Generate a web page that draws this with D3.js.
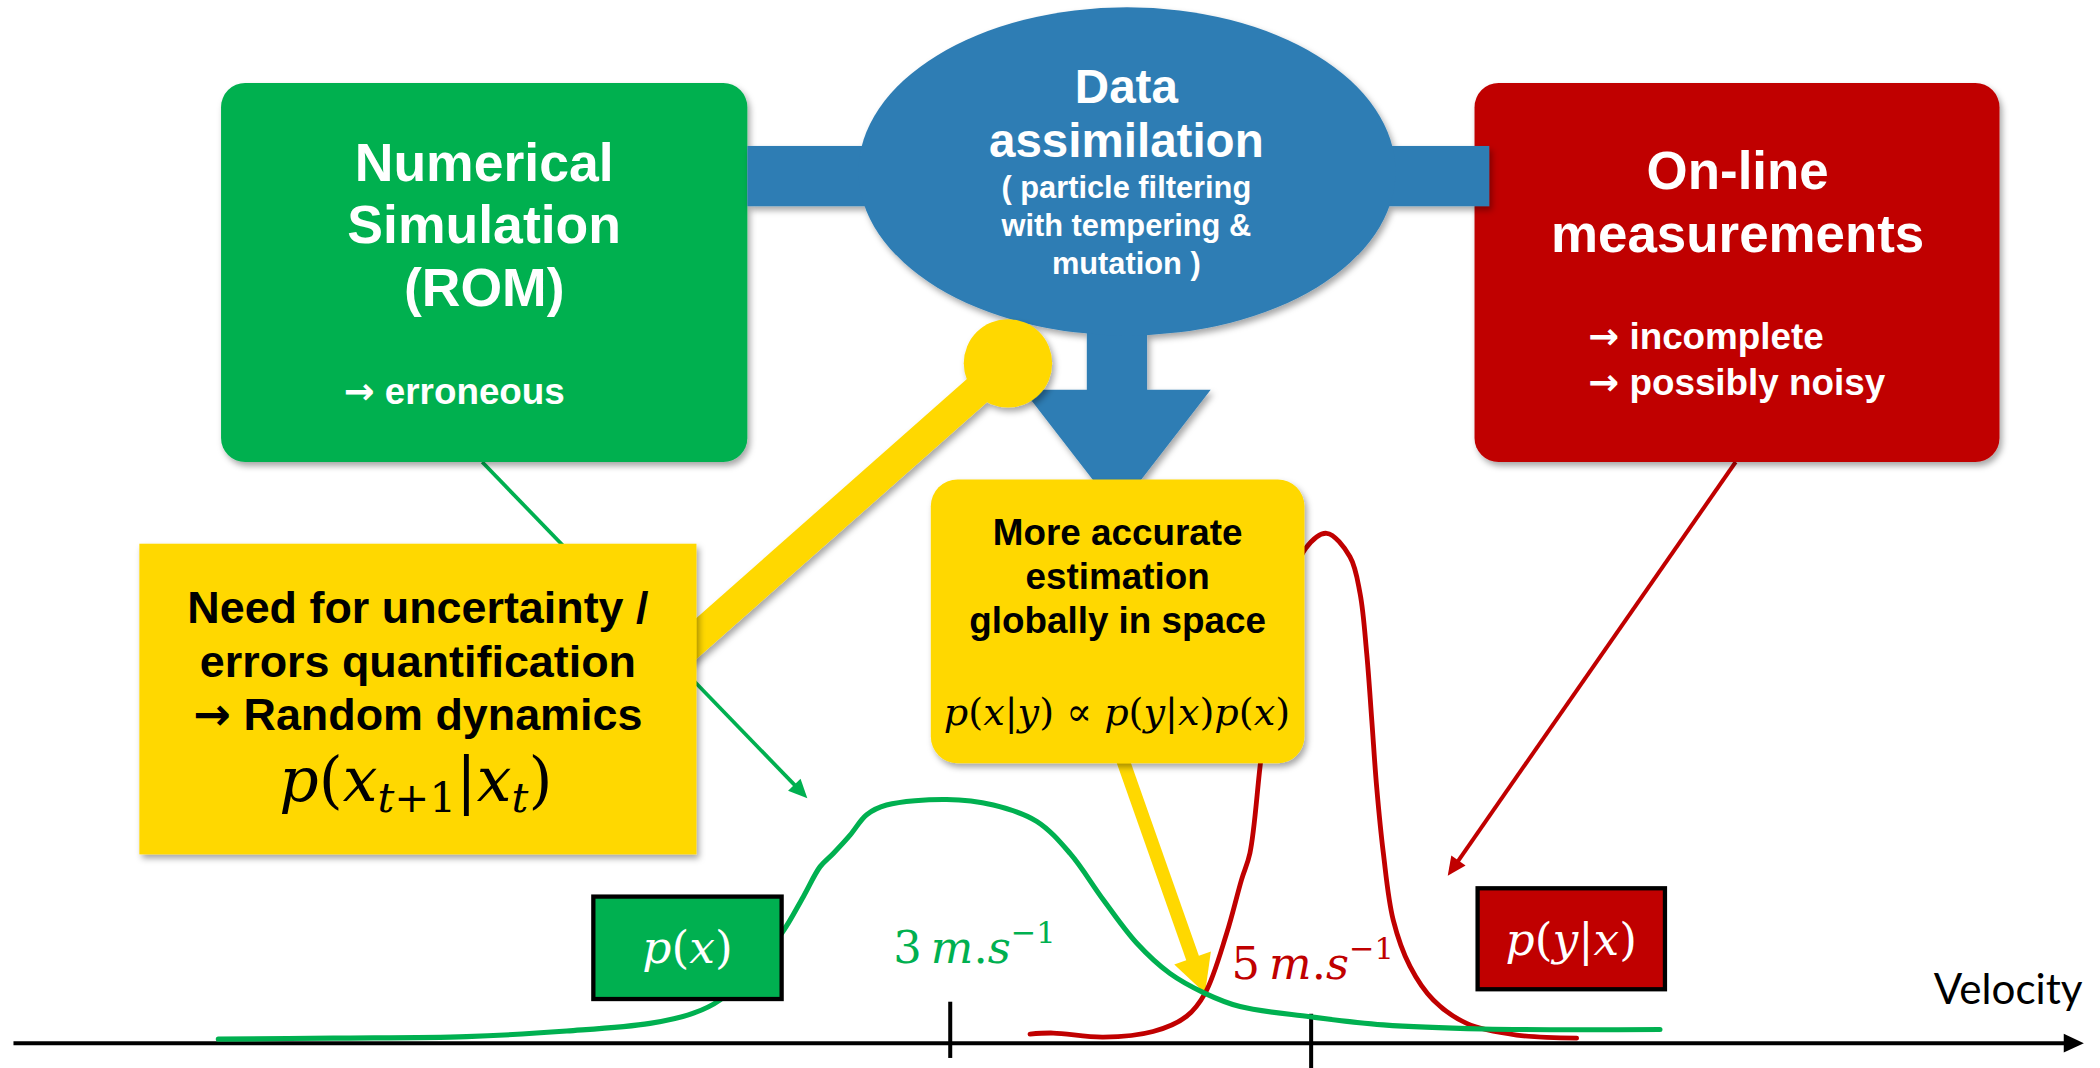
<!DOCTYPE html>
<html><head><meta charset="utf-8">
<script src="https://cdn.jsdelivr.net/npm/d3@7"></script>
<style>html,body{margin:0;padding:0;background:#fff;overflow:hidden}</style>
</head><body>
<script>
// ---------------- data ----------------
const velocityTicks = [3, 5];
// prior p(x) (green curve)
const priorVelocity = [-1.056,-0.418,0.320,0.875,1.336,1.577,1.724,1.89,2.066,2.186,2.279,2.352,2.445,2.537,2.647,2.98,3.239,3.479,3.664,3.848,4.033,4.218,4.412,4.606,4.993,5.400,5.954,6.933];
const priorDensity  = [0.008,0.010,0.013,0.024,0.039,0.059,0.085,0.142,0.216,0.288,0.347,0.373,0.409,0.449,0.468,0.479,0.468,0.436,0.373,0.282,0.197,0.137,0.098,0.072,0.052,0.036,0.028,0.027];
// likelihood p(y|x) (red curve)
const likeVelocity = [3.442,3.571,3.848,4.124,4.31,4.412,4.532,4.614,4.661,4.717,4.77,4.859,4.971,5.086,5.215,5.271,5.308,5.336,5.363,5.40,5.455,5.548,5.677,5.862,6.139,6.471];
const likeDensity  = [0.018,0.020,0.012,0.023,0.053,0.098,0.216,0.321,0.374,0.544,0.708,0.866,0.973,1.002,0.956,0.884,0.766,0.635,0.504,0.374,0.242,0.151,0.085,0.039,0.016,0.010];

const simLines  = ["Numerical", "Simulation", "(ROM)"];
const simNote   = "\u2192 erroneous";
const daTitle   = ["Data", "assimilation"];
const daSub     = ["( particle filtering", "with tempering &", "mutation )"];
const measLines = ["On-line", "measurements"];
const measNotes = ["\u2192 incomplete", "\u2192 possibly noisy"];
const uqLines   = ["Need for uncertainty /", "errors quantification", "\u2192 Random dynamics"];
const estLines  = ["More accurate", "estimation", "globally in space"];
const axisLabel = "Velocity";

// ---------------- setup ----------------
const W = 1568, H = 797.5;
const GREEN = "#00B050", RED = "#C00000", YELLOW = "#FFD800", BLUE = "#2E7DB4";
const svg = d3.select("body").append("svg")
  .attr("width", 2100).attr("height", 1068)
  .attr("viewBox", `0 0 ${W} ${H}`);
const defs = svg.append("defs");
defs.append("filter").attr("id","sh").attr("x","-20%").attr("y","-20%").attr("width","150%").attr("height","150%")
  .append("feDropShadow").attr("dx",2).attr("dy",3).attr("stdDeviation",2.2)
  .attr("flood-color","#000").attr("flood-opacity",0.35);

const xScale = d3.scaleLinear().domain([3,5]).range([709.5, 979]);
const yScale = d3.scaleLinear().domain([0,1]).range([779, 399]);

const SANS = "'Liberation Sans', Arial, Helvetica, sans-serif";
const SERIF = "'DejaVu Serif', serif";

function lines(g, arr, x, y0, dy, size, color, anchor="middle") {
  arr.forEach((s,i) => {
    const t = g.append("text").attr("x",x).attr("y",y0+i*dy)
      .attr("text-anchor",anchor).attr("font-family",SANS).attr("font-weight","bold")
      .attr("font-size",size).attr("fill",color);
    if (s.startsWith("\u2192")) {
      t.append("tspan").attr("font-family","'DejaVu Sans', sans-serif").text("\u2192");
      t.append("tspan").text(s.slice(1));
    } else t.text(s);
  });
}
function mathText(g, x, y, size, parts, color, anchor="middle") {
  const t = g.append("text").attr("x",x).attr("y",y).attr("text-anchor",anchor)
    .attr("font-family",SERIF).attr("font-size",size).attr("fill",color);
  let cur = 0;
  parts.forEach(([s,k]) => {
    const shift = k.startsWith("sub") ? size*0.17 : k.startsWith("sup") ? -size*0.45 : 0;
    const ts = t.append("tspan").text(s).attr("dy", shift-cur);
    cur = shift;
    ts.attr("font-style", k.endsWith("i") ? "italic" : "normal");
    if (shift !== 0) ts.attr("font-size", size*0.68);
  });
  return t;
}
function arrow(g, x1,y1,x2,y2, color, width, L, hw) {
  const dx=x2-x1, dy=y2-y1, len=Math.hypot(dx,dy), ux=dx/len, uy=dy/len;
  const bx=x2-ux*L, by=y2-uy*L;
  g.append("line").attr("x1",x1).attr("y1",y1).attr("x2",bx+ux*1).attr("y2",by+uy*1)
    .attr("stroke",color).attr("stroke-width",width);
  g.append("polygon").attr("points",
    `${x2},${y2} ${bx-uy*hw},${by+ux*hw} ${bx+uy*hw},${by-ux*hw}`).attr("fill",color);
}

// ---------------- connectors (behind) ----------------
const backG = svg.append("g");
arrow(backG, 360, 345, 602.8, 596, GREEN, 2.8, 14, 6.5);
arrow(backG, 1296, 345, 1081, 654, RED, 3, 14, 6.5);

// boxes top row
const topG = svg.append("g");
topG.append("rect").attr("x",165).attr("y",62).attr("width",393).attr("height",283).attr("rx",18)
  .attr("fill",GREEN).attr("filter","url(#sh)");
topG.append("rect").attr("x",1101).attr("y",62).attr("width",392).attr("height",283).attr("rx",18)
  .attr("fill",RED).attr("filter","url(#sh)");
// blue bar and arrow
const blueG = topG.append("g").attr("filter","url(#sh)");
blueG.append("rect").attr("x",558).attr("y",109).attr("width",554).attr("height",45).attr("fill",BLUE);
blueG.append("polygon").attr("points","811.5,230 856.5,230 856.5,291 904,291 834,381.5 764,291 811.5,291").attr("fill",BLUE);
blueG.append("ellipse").attr("cx",841.5).attr("cy",128).attr("rx",200.5).attr("ry",122.5).attr("fill",BLUE);

// ---------------- axis ----------------
const ax = svg.append("g");
ax.append("line").attr("x1",10).attr("x2",1543).attr("y1",yScale(0)).attr("y2",yScale(0))
  .attr("stroke","#000").attr("stroke-width",3);
ax.append("polygon").attr("points",`1556,${yScale(0)} 1541,${yScale(0)-7} 1541,${yScale(0)+7}`).attr("fill","#000");
const tickExt = [[31,11],[22,19]];
velocityTicks.forEach((v,i) => ax.append("line")
  .attr("x1",xScale(v)).attr("x2",xScale(v))
  .attr("y1",yScale(0)-tickExt[i][0]).attr("y2",yScale(0)+tickExt[i][1])
  .attr("stroke","#000").attr("stroke-width",3));
ax.append("text").attr("x",1444).attr("y",749.5).attr("font-family","Lato, 'Open Sans', sans-serif")
  .attr("font-size",31.5).attr("fill","#000").text(axisLabel);

// ---------------- yellow arrow to posterior ----------------
const tipV = 4.412, tipD = 0.098;
arrow(svg.append("g"), 835.7, 560, xScale(tipV), yScale(tipD), YELLOW, 10, 28, 14.5);

// ---------------- curves ----------------
const line = d3.line().x(d=>xScale(d[0])).y(d=>yScale(d[1])).curve(d3.curveCatmullRom.alpha(0.5));
svg.append("path").attr("d", line(d3.zip(likeVelocity, likeDensity)))
  .attr("fill","none").attr("stroke",RED).attr("stroke-width",3.6).attr("stroke-linecap","round");
svg.append("path").attr("d", line(d3.zip(priorVelocity, priorDensity)))
  .attr("fill","none").attr("stroke",GREEN).attr("stroke-width",3.8).attr("stroke-linecap","round");

// ---------------- yellow boxes ----------------
const yel = svg.append("g");
const conn = yel.append("g").attr("filter","url(#sh)");
conn.append("line").attr("x1",752.6).attr("y1",271.3).attr("x2",505).attr("y2",490)
  .attr("stroke",YELLOW).attr("stroke-width",23);
conn.append("circle").attr("cx",752.6).attr("cy",271.3).attr("r",33).attr("fill",YELLOW);
yel.append("rect").attr("x",104).attr("y",406).attr("width",416).attr("height",232)
  .attr("fill",YELLOW).attr("filter","url(#sh)");
yel.append("rect").attr("x",695).attr("y",358).attr("width",279).attr("height",212).attr("rx",20)
  .attr("fill",YELLOW).attr("filter","url(#sh)");

// ---------------- small label boxes ----------------
svg.append("rect").attr("x",443).attr("y",669.5).attr("width",140.6).attr("height",76.5)
  .attr("fill",GREEN).attr("stroke","#000").attr("stroke-width",3.2);
svg.append("rect").attr("x",1103.3).attr("y",663.3).attr("width",139.9).attr("height",75.4)
  .attr("fill",RED).attr("stroke","#000").attr("stroke-width",3.2);

// ---------------- texts ----------------
const T = svg.append("g");
lines(T, simLines, 361.5, 134.8, 47, 40, "#fff");
lines(T, [simNote], 256.6, 301.4, 0, 27.5, "#fff", "start");
lines(T, daTitle, 841, 77, 40, 35.5, "#fff");
lines(T, daSub, 841, 148, 28.3, 23, "#fff");
lines(T, measLines, 1297.5, 141, 47, 39.5, "#fff");
lines(T, measNotes, 1186, 260.3, 34.3, 27.5, "#fff", "start");
lines(T, uqLines, 312, 465.3, 39.9, 33.5, "#000");
lines(T, estLines, 834.5, 407, 33, 27.5, "#000");

mathText(T, 310.5, 598.4, 46, [["p","i"],["(","n"],["x","i"],["t","subi"],["+1","sub"],["|","n"],["x","i"],["t","subi"],[")","n"]], "#000");
mathText(T, 834, 541.3, 28.5, [["p","i"],["(","n"],["x","i"],["|","n"],["y","i"],[")","n"],[" \u221D ","n"],["p","i"],["(","n"],["y","i"],["|","n"],["x","i"],[")","n"],["p","i"],["(","n"],["x","i"],[")","n"]], "#000");
mathText(T, 513.3, 719.3, 34, [["p","i"],["(","n"],["x","i"],[")","n"]], "#fff");
mathText(T, 1173.2, 713, 34, [["p","i"],["(","n"],["y","i"],["|","n"],["x","i"],[")","n"]], "#fff");

const unitParts = v => [[String(v),"n"],["\u2009","n"],["m","i"],[".","n"],["s","i"],["\u22121","sup"]];
mathText(T, xScale(velocityTicks[0]) - 42.5, 719.3, 33.5, unitParts(velocityTicks[0]), GREEN, "start");
mathText(T, xScale(velocityTicks[1]) - 59.4, 731.2, 33.5, unitParts(velocityTicks[1]), RED, "start");
</script>
</body></html>
